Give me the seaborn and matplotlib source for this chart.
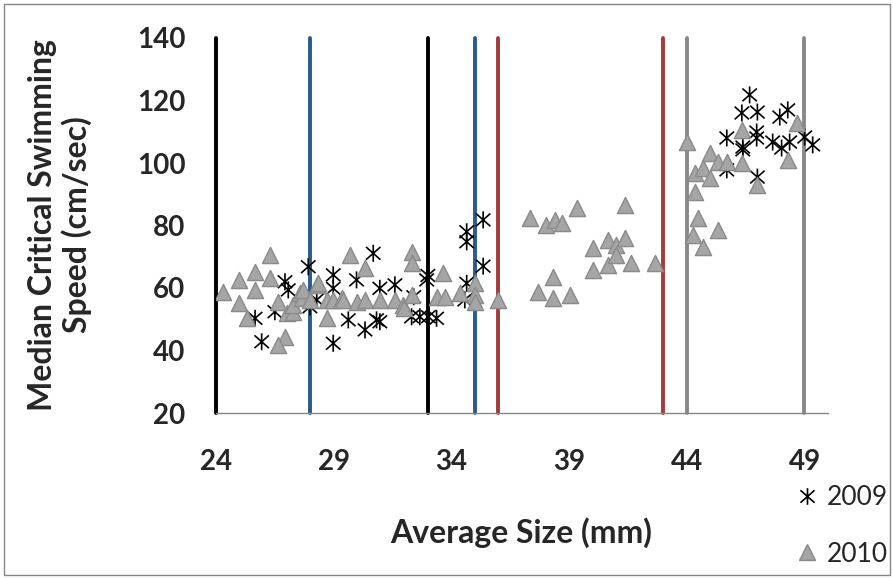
import matplotlib
matplotlib.use("Agg")
import matplotlib.pyplot as plt
import seaborn as sns
import pandas as pd
from matplotlib.lines import Line2D
from matplotlib.patches import Rectangle
from matplotlib.path import Path

# 2009 fish (asterisk markers)
size_2009 = [25.66, 25.94, 26.5, 26.93, 27.07, 27.92, 27.99, 28.28, 28.98, 28.98,
             28.98, 29.62, 29.97, 30.33, 30.68, 30.82, 30.96, 30.96, 31.6, 32.31,
             32.4, 32.66, 32.95, 33.0, 33.02, 33.37, 34.57, 34.65, 34.65, 34.65,
             35.35, 35.35,
             45.7, 45.7, 46.34, 46.38, 46.38, 46.67, 46.97, 46.97, 47.0, 47.0,
             47.65, 47.95, 48.03, 48.29, 48.37, 49.01, 49.35]
speed_2009 = [50.3, 42.8, 52.4, 62.0, 59.4, 66.8, 54.0, 56.2, 64.2, 59.9,
              42.3, 49.8, 62.6, 46.6, 71.1, 49.8, 59.9, 49.2, 61.0, 50.8,
              57.2, 50.8, 62.6, 64.0, 50.8, 50.3, 56.2, 61.5, 78.0, 74.8,
              81.8, 67.0,
              108.0, 97.8, 116.0, 105.1, 104.2, 121.8, 109.9, 108.0, 116.3, 95.5,
              106.7, 114.7, 104.8, 117.0, 106.7, 108.3, 105.8]

# 2010 fish (triangle markers)
size_2010 = [24.31, 24.99, 24.99, 25.3, 25.66, 25.66, 26.29, 26.29, 26.65, 26.93,
             26.65, 27.0, 27.28, 27.28, 27.57, 27.64, 27.7, 28.0, 28.28, 28.34,
             28.7, 28.7, 28.98, 29.34, 29.4, 29.69, 29.97, 30.33, 30.33, 30.96,
             31.6, 31.95, 32.0, 32.31, 32.31, 32.31, 33.37, 33.65, 33.72, 34.36,
             35.0, 35.0, 35.0, 35.99,
             37.33, 37.69, 38.04, 38.32, 38.32, 38.39, 38.68, 39.03, 39.34, 40.02,
             40.02, 40.66, 40.66, 41.01, 41.01, 41.37, 41.37, 41.65, 42.64,
             44.0, 44.25, 44.34, 44.34, 44.47, 44.68, 44.68, 44.98, 44.98, 45.32,
             45.32, 45.7, 46.34, 46.34, 47.0, 48.3, 48.7]
speed_2010 = [58.8, 62.6, 55.1, 50.3, 65.2, 59.4, 70.6, 63.1, 55.6, 44.4,
              41.8, 51.9, 52.4, 54.5, 58.3, 56.7, 59.4, 56.2, 61.0, 61.5,
              56.2, 50.3, 56.2, 56.7, 56.2, 70.6, 55.6, 66.3, 56.2, 56.2,
              56.2, 54.6, 53.5, 71.6, 67.9, 57.8, 57.2, 64.7, 57.2, 58.3,
              61.5, 57.8, 55.6, 56.2,
              82.3, 58.8, 80.2, 63.6, 56.7, 81.8, 80.7, 57.8, 85.5, 72.7,
              65.8, 75.4, 67.4, 73.8, 70.6, 75.9, 86.6, 67.9, 67.9,
              106.7, 77.0, 96.8, 90.7, 82.4, 98.4, 73.1, 103.2, 95.2, 100.3,
              78.6, 100.3, 110.6, 100.0, 93.0, 101.0, 112.8]

# vertical reference lines (size class boundaries)
line_pos = [24, 28, 33, 35, 36, 43, 44, 49]
line_colors = ["#000000", "#285A8C", "#000000", "#285A8C", "#A33B3B", "#A33B3B", "#898989", "#898989"]

x_ticks = [24, 29, 34, 39, 44, 49]
y_ticks = [20, 40, 60, 80, 100, 120, 140]

df09 = pd.DataFrame({"size": size_2009, "speed": speed_2009})
df10 = pd.DataFrame({"size": size_2010, "speed": speed_2010})

sns.set_style("white")
plt.rcParams["font.family"] = ["Lato", "DejaVu Sans"]

# Excel-style star: an X with a vertical bar through it
star = Path([(0, -1), (0, 1), (-0.85, -0.75), (0.85, 0.75), (-0.85, 0.75), (0.85, -0.75)],
            [Path.MOVETO, Path.LINETO, Path.MOVETO, Path.LINETO, Path.MOVETO, Path.LINETO])

fig = plt.figure(figsize=(8.93, 5.78), dpi=100)
ax = fig.add_axes([216 / 893, 1 - 413 / 578, (828 - 216) / 893, (413 - 38) / 578])

for xv, c in zip(line_pos, line_colors):
    ax.axvline(xv, color=c, lw=2.8, zorder=1, clip_on=False)

sns.scatterplot(data=df09, x="size", y="speed", marker=star, s=150, color="black",
                edgecolor="black", facecolor="none", linewidth=1.2, ax=ax, zorder=3,
                legend=False)
sns.scatterplot(data=df10, x="size", y="speed", marker="^", s=135, color="#A5A5A5",
                edgecolor="#8A8A8A", linewidth=1.0, ax=ax, zorder=4, legend=False)

ax.set_xlim(24, 50)
ax.set_ylim(20, 140)
ax.set_xticks(x_ticks)
ax.set_yticks(y_ticks)
ax.set_xlabel("")
ax.set_ylabel("")
for sp in ["top", "right", "left"]:
    ax.spines[sp].set_visible(False)
ax.spines["bottom"].set_color("#868686")
ax.spines["bottom"].set_linewidth(1.0)
ax.tick_params(axis="both", direction="out", length=6, width=1, color="#868686",
               labelsize=20)
ax.tick_params(axis="x", pad=20)
ax.tick_params(axis="y", pad=16)
for lab in ax.get_xticklabels() + ax.get_yticklabels():
    lab.set_fontweight("bold")

fig.text(521 / 893, 1 - 533 / 578, "Average Size (mm)", ha="center", va="center",
         fontsize=23, fontweight="bold")
fig.text(60 / 893, 1 - 225 / 578, "Median Critical Swimming\nSpeed (cm/sec)",
         ha="center", va="center", rotation=90, fontsize=23, fontweight="bold",
         multialignment="center", linespacing=1.15)

handles = [
    Line2D([], [], linestyle="none", marker=star, markersize=12, color="black",
           markerfacecolor="none", markeredgewidth=1.2),
    Line2D([], [], linestyle="none", marker="^", markersize=12,
           markerfacecolor="#A5A5A5", markeredgecolor="#8A8A8A"),
]
fig.legend(handles, ["2009", "2010"], loc="upper left",
           bbox_to_anchor=(795 / 893, 1 - 485 / 578), frameon=False,
           fontsize=19, handlelength=0.9, handletextpad=0.3, labelspacing=1.2,
           borderpad=0, borderaxespad=0)

fig.patches.append(Rectangle((4 / 893, 3 / 578), 886 / 893, 571 / 578,
                             transform=fig.transFigure, fill=False,
                             edgecolor="#868686", linewidth=1.0))

fig.savefig("out.png", dpi=100)
